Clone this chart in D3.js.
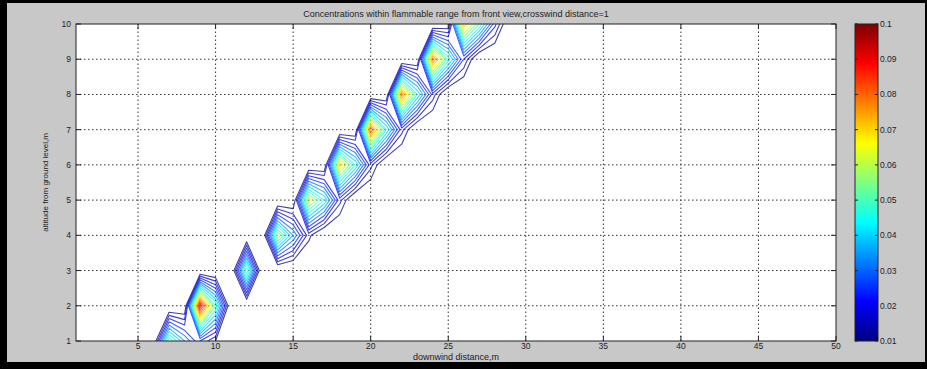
<!DOCTYPE html>
<html>
<head>
<meta charset="utf-8">
<script src="https://cdn.jsdelivr.net/npm/d3@7"></script>
<style>
body { margin: 0; background: #000; }
svg { display: block; font-family: "Liberation Sans", Arial, sans-serif; }
.grid line { stroke: #333; stroke-dasharray: 1.5,2.5; stroke-width: 1; }
.tick { fill: #222; font-size: 8.5px; }
</style>
</head>
<body>
<script>
// concentration, one row per altitude; row k starts at x = rowStart[k]
var altitudes = [1, 2, 3, 4, 5, 6, 7, 8, 9, 10];
var rowStart = [6, 8, 12, 13, 15, 17, 19, 21, 23, 25];
var rowValues = [
  [0.002, 0.055, 0.035, 0.02, 0.01],
  [0.002, 0.095, 0.05],
  [0.055],
  [0.0, 0.06, 0.035, 0.012],
  [0.002, 0.065, 0.045, 0.017],
  [0.002, 0.072, 0.045, 0.017],
  [0.002, 0.085, 0.045, 0.017],
  [0.002, 0.082, 0.045, 0.018],
  [0.002, 0.082, 0.048, 0.02],
  [0.004, 0.075, 0.05, 0.022]
];
var levels = [0.01, 0.015, 0.02, 0.025, 0.03, 0.035, 0.04, 0.045, 0.05, 0.055,
              0.06, 0.065, 0.07, 0.075, 0.08, 0.085, 0.09, 0.095, 0.1];
var xTicks = [5, 10, 15, 20, 25, 30, 35, 40, 45, 50];
var yTicks = [1, 2, 3, 4, 5, 6, 7, 8, 9, 10];
var cbTicks = [0.01, 0.02, 0.03, 0.04, 0.05, 0.06, 0.07, 0.08, 0.09, 0.1];

var W = 927, H = 369;
var nx = 50, ny = 10;

function jet(t) {
  t = Math.max(0, Math.min(1, t));
  var c = function(v) { return Math.round(255 * Math.max(0, Math.min(1, v))); };
  var r = Math.min(4 * t - 1.5, -4 * t + 4.5);
  var g = Math.min(4 * t - 0.5, -4 * t + 3.5);
  var b = Math.min(4 * t + 0.5, -4 * t + 2.5);
  return 'rgb(' + c(r) + ',' + c(g) + ',' + c(b) + ')';
}

var svg = d3.select('body').append('svg')
  .attr('width', W)
  .attr('height', H);

svg.append('rect').attr('width', W).attr('height', H).attr('fill', '#000');
svg.append('rect')
  .attr('x', 7).attr('y', 3)
  .attr('width', 918).attr('height', 359)
  .attr('fill', '#c8c8c8');

var x = d3.scaleLinear().domain([1, 50]).range([76, 836]);
var y = d3.scaleLinear().domain([1, 10]).range([341, 24]);
var c = d3.scaleLinear().domain([0.01, 0.1]).range([341, 24]);

svg.append('defs').append('clipPath').attr('id', 'plotclip')
  .append('rect')
    .attr('x', x(1)).attr('y', y(10))
    .attr('width', x(50) - x(1)).attr('height', y(1) - y(10));

svg.append('rect')
  .attr('x', x(1)).attr('y', y(10))
  .attr('width', x(50) - x(1)).attr('height', y(1) - y(10))
  .attr('fill', '#fff');

// grid
var grid = svg.append('g').attr('class', 'grid');
grid.selectAll('.gx')
  .data(xTicks.filter(function(d) { return d < 50; }))
  .enter().append('line')
    .attr('x1', function(d) { return x(d); })
    .attr('x2', function(d) { return x(d); })
    .attr('y1', y(1))
    .attr('y2', y(10));
grid.selectAll('.gy')
  .data(yTicks.filter(function(d) { return d > 1 && d < 10; }))
  .enter().append('line')
    .attr('x1', x(1))
    .attr('x2', x(50))
    .attr('y1', function(d) { return y(d); })
    .attr('y2', function(d) { return y(d); });

// field -> contours
var field = new Array(nx * ny).fill(0);
altitudes.forEach(function(a, j) {
  rowValues[j].forEach(function(v, i) {
    field[(a - 1) * nx + rowStart[j] - 1 + i] = v;
  });
});

var contours = d3.contours()
  .size([nx, ny])
  .thresholds(levels)(field);

var proj = d3.geoTransform({
  point: function(px, py) { this.stream.point(x(px + 0.5), y(py + 0.5)); }
});
var path = d3.geoPath(proj);

svg.append('g')
  .attr('clip-path', 'url(#plotclip)')
  .selectAll('path')
  .data(contours)
  .enter().append('path')
    .attr('d', path)
    .attr('fill', 'none')
    .attr('stroke', function(d) { return jet((d.value - 0.01) / 0.09); })
    .attr('stroke-opacity', 0.75)
    .attr('stroke-width', 1.1)
    .attr('stroke-linejoin', 'round');

// axes box + ticks
svg.append('rect')
  .attr('x', x(1)).attr('y', y(10))
  .attr('width', x(50) - x(1)).attr('height', y(1) - y(10))
  .attr('fill', 'none')
  .attr('stroke', '#222');

var tl = 5;
svg.selectAll('.xt')
  .data(xTicks)
  .enter().append('path')
    .attr('d', function(d) {
      return 'M' + x(d) + ',' + y(1) + 'v' + (-tl) + 'M' + x(d) + ',' + y(10) + 'v' + tl;
    })
    .attr('stroke', '#222');
svg.selectAll('.yt')
  .data(yTicks)
  .enter().append('path')
    .attr('d', function(d) {
      return 'M' + x(1) + ',' + y(d) + 'h' + tl + 'M' + x(50) + ',' + y(d) + 'h' + (-tl);
    })
    .attr('stroke', '#222');

svg.selectAll('.xl')
  .data(xTicks)
  .enter().append('text')
    .attr('class', 'tick')
    .attr('x', function(d) { return x(d); })
    .attr('y', 349)
    .attr('text-anchor', 'middle')
    .text(function(d) { return d; });

svg.selectAll('.yl')
  .data(yTicks)
  .enter().append('text')
    .attr('class', 'tick')
    .attr('x', x(1) - 5)
    .attr('y', function(d) { return y(d) + 3; })
    .attr('text-anchor', 'end')
    .text(function(d) { return d; });

svg.append('text')
  .attr('x', (x(1) + x(50)) / 2)
  .attr('y', 17)
  .attr('text-anchor', 'middle')
  .style('font-size', '9px')
  .style('fill', '#222')
  .text('Concentrations within flammable range from front view,crosswind distance=1');

svg.append('text')
  .attr('x', 456)
  .attr('y', 360)
  .attr('text-anchor', 'middle')
  .style('font-size', '9px')
  .style('fill', '#222')
  .text('downwind distance,m');

svg.append('text')
  .attr('transform', 'translate(48,' + ((y(1) + y(10)) / 2) + ') rotate(-90)')
  .attr('text-anchor', 'middle')
  .style('font-size', '8px')
  .style('fill', '#222')
  .text('altitude from ground level,m');

// colorbar
var cbx = 855, cbw = 23;
var grad = svg.select('defs').append('linearGradient')
  .attr('id', 'jetgrad')
  .attr('x1', 0).attr('y1', 1).attr('x2', 0).attr('y2', 0);
grad.selectAll('stop')
  .data(d3.range(0, 1.0001, 1 / 32))
  .enter().append('stop')
    .attr('offset', function(d) { return d; })
    .attr('stop-color', function(d) { return jet(d); });

svg.append('rect')
  .attr('x', cbx).attr('y', c(0.1))
  .attr('width', cbw).attr('height', c(0.01) - c(0.1))
  .attr('fill', 'url(#jetgrad)')
  .attr('stroke', '#222');

svg.selectAll('.ct')
  .data(cbTicks)
  .enter().append('path')
    .attr('d', function(d) {
      return 'M' + cbx + ',' + c(d) + 'h3M' + (cbx + cbw) + ',' + c(d) + 'h-3';
    })
    .attr('stroke', '#222');

svg.selectAll('.cl')
  .data(cbTicks)
  .enter().append('text')
    .attr('class', 'tick')
    .attr('x', cbx + cbw + 2)
    .attr('y', function(d) { return c(d) + 3; })
    .text(function(d) { return String(+d.toFixed(2)); });
</script>
</body>
</html>
